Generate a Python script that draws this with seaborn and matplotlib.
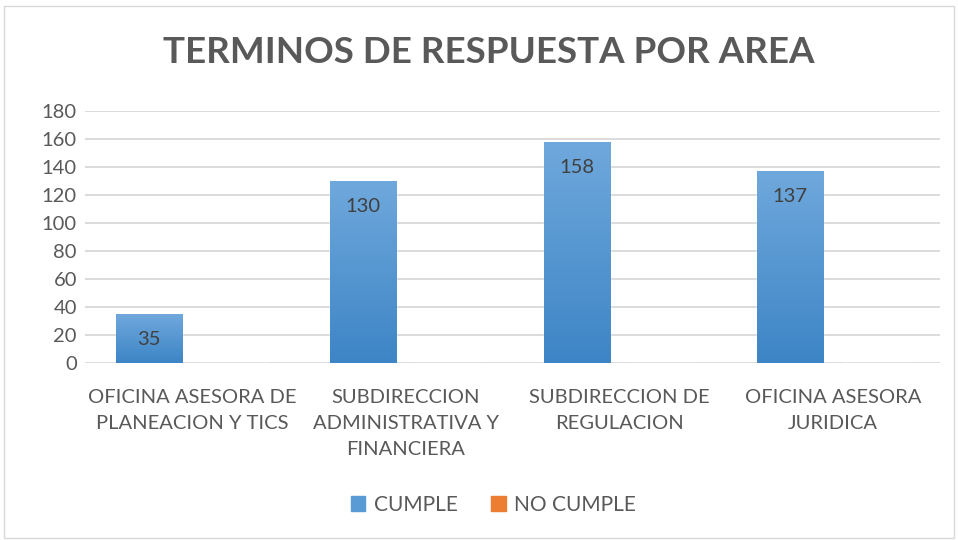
import numpy as np
import pandas as pd
import matplotlib.pyplot as plt
import seaborn as sns
from matplotlib.patches import Rectangle
from matplotlib.colors import LinearSegmentedColormap

# Datos del gráfico
areas = ["OFICINA ASESORA DE\nPLANEACION Y TICS",
         "SUBDIRECCION\nADMINISTRATIVA Y\nFINANCIERA",
         "SUBDIRECCION DE\nREGULACION",
         "OFICINA ASESORA\nJURIDICA"]
cumple = [35, 130, 158, 137]
no_cumple = [0, 0, 0, 0]
series = ["CUMPLE", "NO CUMPLE"]
y_ticks = [0, 20, 40, 60, 80, 100, 120, 140, 160, 180]

df = pd.DataFrame({
    "area": areas * 2,
    "serie": [series[0]] * len(areas) + [series[1]] * len(areas),
    "valor": cumple + no_cumple,
})

sns.set_style("white")
plt.rcParams['font.family'] = ['Lato', 'DejaVu Sans']
gris = "#595959"

fig = plt.figure(figsize=(9.58, 5.4), dpi=100)
ax = fig.add_axes([0.089, 0.328, 0.892, 0.466])

sns.barplot(data=df, x="area", y="valor", hue="serie",
            palette=["#5b9bd5", "#ed7d31"], width=0.8, gap=0.225,
            ax=ax, legend=False, zorder=3)

# Degradado en las barras azules
grad = np.linspace(0, 1, 256).reshape(-1, 1)
cmap = LinearSegmentedColormap.from_list("azul", ["#3d85c6", "#6fa8dc"])
for p in ax.patches[:len(areas)]:
    x0, y0, w, h = p.get_x(), p.get_y(), p.get_width(), p.get_height()
    im = ax.imshow(grad, cmap=cmap, aspect="auto", origin="lower",
                   extent=[x0, x0 + w, y0, y0 + h], zorder=4)
    im.set_clip_path(p)

ax.set_ylim(0, 180)
ax.set_xlim(-0.5, 3.5)
ax.set_yticks(y_ticks)
ax.yaxis.grid(True, color="#d9d9d9", linewidth=1.3, zorder=0)
for s in ax.spines.values():
    s.set_visible(False)
ax.set_xlabel("")
ax.set_ylabel("")
ax.tick_params(axis="both", length=0, labelsize=14.5, colors=gris, pad=6)
ax.tick_params(axis="x", pad=19)
for lbl in ax.get_xticklabels():
    lbl.set_linespacing(1.65)

# Etiquetas de datos dentro de la barra
for p, v in zip(ax.patches[:len(areas)], cumple):
    ax.text(p.get_x() + p.get_width() / 2, v - 18, str(v),
            ha="center", va="center", fontsize=14.5, color="#404040", zorder=5)

fig.suptitle("TERMINOS DE RESPUESTA POR AREA", x=0.51, y=0.902, va="center",
             fontsize=26.5, fontweight="bold", color=gris)

# Leyenda
handles = [Rectangle((0, 0), 1, 1, color="#5b9bd5"),
           Rectangle((0, 0), 1, 1, color="#ed7d31")]
fig.legend(handles, series, loc="center", bbox_to_anchor=(0.515, 0.065),
           ncol=2, frameon=False, fontsize=15, labelcolor=gris,
           handlelength=0.7, handleheight=0.7, handletextpad=0.4,
           columnspacing=1.6)

# Borde del gráfico
fig.patches.append(Rectangle((0.004, 0.004), 0.992, 0.985, transform=fig.transFigure,
                             fill=False, edgecolor="#d9d9d9", linewidth=1))

fig.savefig("out.png", dpi=100)
plt.close()
